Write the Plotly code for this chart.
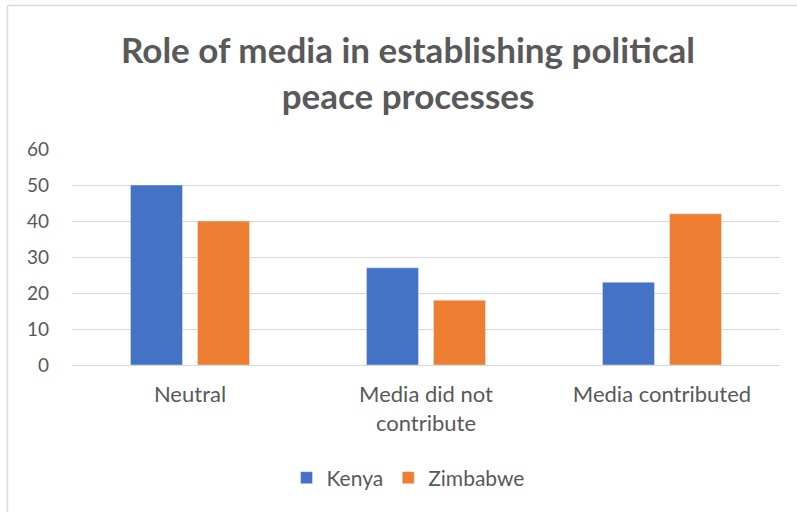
import plotly.graph_objects as go

categories = ["Neutral", "Media did not<br>contribute", "Media contributed"]
kenya = [50, 27, 23]
zimbabwe = [40, 18, 42]
series_names = ["Kenya", "Zimbabwe"]
y_ticks = [0, 10, 20, 30, 40, 50, 60]

W, H = 797, 512
L, R, T, B = 72, 17, 149, 147
pw, ph = W - L - R, H - T - B

def px_x(px):
    return (px - L) / pw

def px_y(py):
    return (H - B - py) / ph

fig = go.Figure()
fig.add_trace(go.Bar(x=categories, y=kenya, name=series_names[0], marker_color="#4472C4"))
fig.add_trace(go.Bar(x=categories, y=zimbabwe, name=series_names[1], marker_color="#ED7D31"))

font_fam = "Lato, 'Open Sans', sans-serif"
grey = "#595959"

fig.update_layout(
    width=W, height=H,
    margin=dict(l=L, r=R, t=T, b=B),
    paper_bgcolor="white", plot_bgcolor="white",
    barmode="group", bargap=0.432, bargroupgap=0.224,
    font=dict(family=font_fam, color=grey, size=18),
    title=dict(
        text="<b>Role of media in establishing political<br>peace processes</b>",
        x=px_x(408), xanchor="center", xref="paper",
        y=1 - 63 / H, yanchor="middle", yref="container",
        font=dict(family=font_fam, size=35, color=grey),
    ),
    showlegend=True,
    legend=dict(
        orientation="h", x=px_x(408), xanchor="center",
        y=px_y(478), yanchor="middle",
        font=dict(size=21, color=grey),
        itemwidth=30, traceorder="normal",
    ),
    xaxis=dict(
        showline=True, linecolor="#D9D9D9", linewidth=1,
        ticks="", tickfont=dict(size=22, color=grey),
        ticklabelstandoff=10,
        fixedrange=True,
    ),
    yaxis=dict(
        range=[0, 60], tickvals=y_ticks, showgrid=True,
        gridcolor="#D9D9D9", gridwidth=1, zeroline=False,
        showline=False, ticks="", ticklabelstandoff=22,
        tickfont=dict(size=19, color=grey),
    ),
    shapes=[
        dict(type="line", xref="paper", yref="paper",
             x0=px_x(7.5), x1=px_x(7.5), y0=px_y(H + 5), y1=px_y(5.5),
             line=dict(color="#D9D9D9", width=1.5)),
        dict(type="line", xref="paper", yref="paper",
             x0=px_x(7.5), x1=px_x(W + 5), y0=px_y(5.5), y1=px_y(5.5),
             line=dict(color="#D9D9D9", width=1.5)),
    ],
)

fig.write_html("out.html", config={"displayModeBar": False},
               post_script="document.body.style.margin='0';")
